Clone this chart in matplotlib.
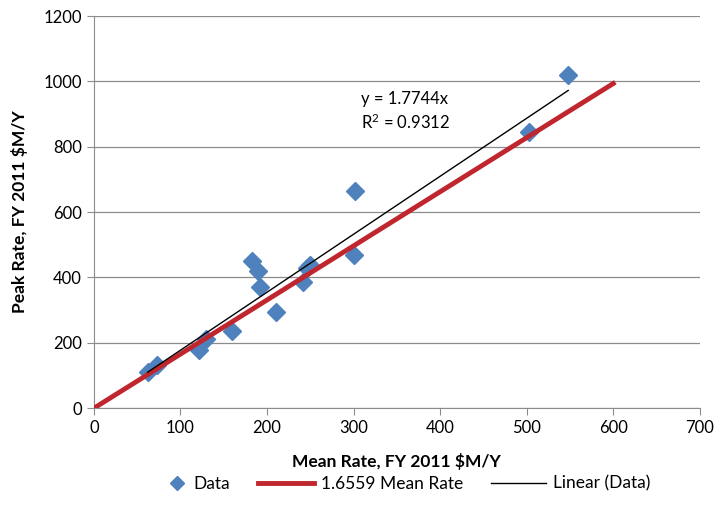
import matplotlib.pyplot as plt
from matplotlib.legend_handler import HandlerLine2D
from matplotlib.lines import Line2D
import numpy as np

# data
mean_rate = [62, 73, 121, 130, 160, 183, 189, 192, 210, 242, 246, 250, 300, 302, 503, 548]
peak_rate = [110, 131, 178, 213, 236, 451, 419, 371, 295, 387, 428, 437, 468, 664, 844, 1019]
slope_fit = 1.7744
slope_mean = 1.6559
r2 = 0.9312

plt.rcParams['font.family'] = ['Lato', 'DejaVu Sans']


class MarkerRight(HandlerLine2D):
    # put the diamond near the text, like Excel does
    def create_artists(self, legend, orig_handle, xdescent, ydescent, width, height, fontsize, trans):
        x = -xdescent + width - 7
        y = (height - ydescent) / 2
        mk = Line2D([x], [y])
        self.update_prop(mk, orig_handle, legend)
        mk.set_linestyle('None')
        mk.set_markersize(mk.get_markersize() * legend.markerscale)
        mk.set_transform(trans)
        return [mk]


fig = plt.figure(figsize=(7.17, 5.18), dpi=100)
ax = fig.add_axes([0.131, 0.212, 0.845, 0.757])

pts, = ax.plot(mean_rate, peak_rate, 'D', color='#4F81BD', markersize=9, label='Data', zorder=3)

xr = np.array([0, 600])
ax.plot(xr, slope_mean * xr, color='#C0262D', linewidth=3.5, label='%.4f Mean Rate' % slope_mean, zorder=4)

xf = np.array([min(mean_rate), max(mean_rate)])
ax.plot(xf, slope_fit * xf, color='black', linewidth=1, label='Linear (Data)', zorder=5)

ax.text(309, 945, 'y = %.4fx' % slope_fit, fontsize=12, va='center')
ax.text(309, 875, '$\\mathregular{R^2}$ = %.4f' % r2, fontsize=12, va='center')

ax.set_xlim(0, 700)
ax.set_ylim(0, 1200)
ax.set_xticks(range(0, 701, 100))
ax.set_yticks(range(0, 1201, 200))
ax.tick_params(labelsize=12, colors='#000000', length=5, color='#8c8c8c')
ax.grid(axis='y', color='#8c8c8c', linewidth=0.9)
ax.set_axisbelow(True)
for s in ['top', 'right']:
    ax.spines[s].set_visible(False)
for s in ['left', 'bottom']:
    ax.spines[s].set_color('#8c8c8c')

ax.set_xlabel('Mean Rate, FY 2011 $M/Y', fontsize=12.5, fontweight='bold', labelpad=12)
ax.set_ylabel('Peak Rate, FY 2011 $M/Y', fontsize=12.5, fontweight='bold', labelpad=11)

ax.legend(loc='center', bbox_to_anchor=(0.49, -0.193), ncol=3, frameon=False,
          fontsize=12.5, handlelength=3.2, columnspacing=1.6, markerscale=0.75,
          handletextpad=0.4, handler_map={pts: MarkerRight()})

plt.savefig('out.png')
